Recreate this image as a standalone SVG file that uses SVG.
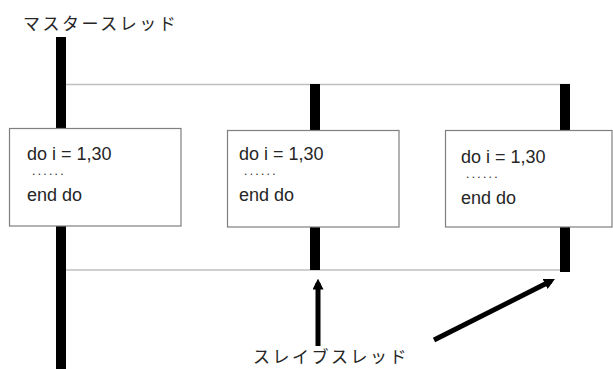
<svg xmlns="http://www.w3.org/2000/svg" width="613" height="369" viewBox="0 0 613 369">
<style>
.bar{fill:#000}
.thin{stroke:#bfbfbf;stroke-width:1.5;fill:none}
.box{fill:#fff;stroke:#7f7f7f;stroke-width:1.2}
.code{font-family:"Liberation Sans",Arial,sans-serif;font-size:18px;fill:#262626}
.dots{font-family:"Liberation Sans",Arial,sans-serif;font-size:12px;letter-spacing:2.3px;fill:#262626}
.jp{font-family:"Noto Sans CJK JP","Noto Sans",sans-serif;font-size:17px;letter-spacing:2.5px;fill:#262626}
.arr{stroke:#000;stroke-width:5;fill:none;marker-end:url(#ah)}
</style>
<defs>
<marker id="ah" viewBox="0 0 10 10" refX="6" refY="5" markerWidth="2.2" markerHeight="2.2" orient="auto" markerUnits="strokeWidth">
<path d="M0,0 L10,5 L0,10 z" fill="#000"/>
</marker>
</defs>
<g id="connectors">
<line class="thin" x1="66" y1="84.5" x2="570" y2="84.5"/>
<line class="thin" x1="66" y1="270" x2="562" y2="270"/>
<rect class="bar" x="56" y="37" width="10" height="332"/>
<rect class="bar" x="310" y="84" width="10" height="186"/>
<rect class="bar" x="560" y="84" width="10" height="188"/>
<line class="arr" x1="318" y1="346" x2="318" y2="283"/>
<line class="arr" x1="434" y1="340" x2="551" y2="281"/>
</g>
<g id="master-label">
<text class="jp" x="23" y="30">マスタースレッド</text>
</g>
<g id="box1">
<rect class="box" x="9.5" y="128.5" width="171.5" height="97.5"/>
<text class="code" x="27" y="160">do i = 1,30</text>
<text class="dots" x="32" y="175">......</text>
<text class="code" x="27" y="201">end do</text>
</g>
<g id="box2">
<rect class="box" x="227.5" y="130.5" width="171.5" height="96.5"/>
<text class="code" x="239" y="160">do i = 1,30</text>
<text class="dots" x="244" y="175">......</text>
<text class="code" x="239" y="201">end do</text>
</g>
<g id="box3">
<rect class="box" x="445.5" y="130.5" width="166.5" height="96.5"/>
<text class="code" x="461" y="163">do i = 1,30</text>
<text class="dots" x="466" y="178">......</text>
<text class="code" x="461" y="204">end do</text>
</g>
<g id="slave-label">
<text class="jp" x="253" y="363">スレイブスレッド</text>
</g>
</svg>
